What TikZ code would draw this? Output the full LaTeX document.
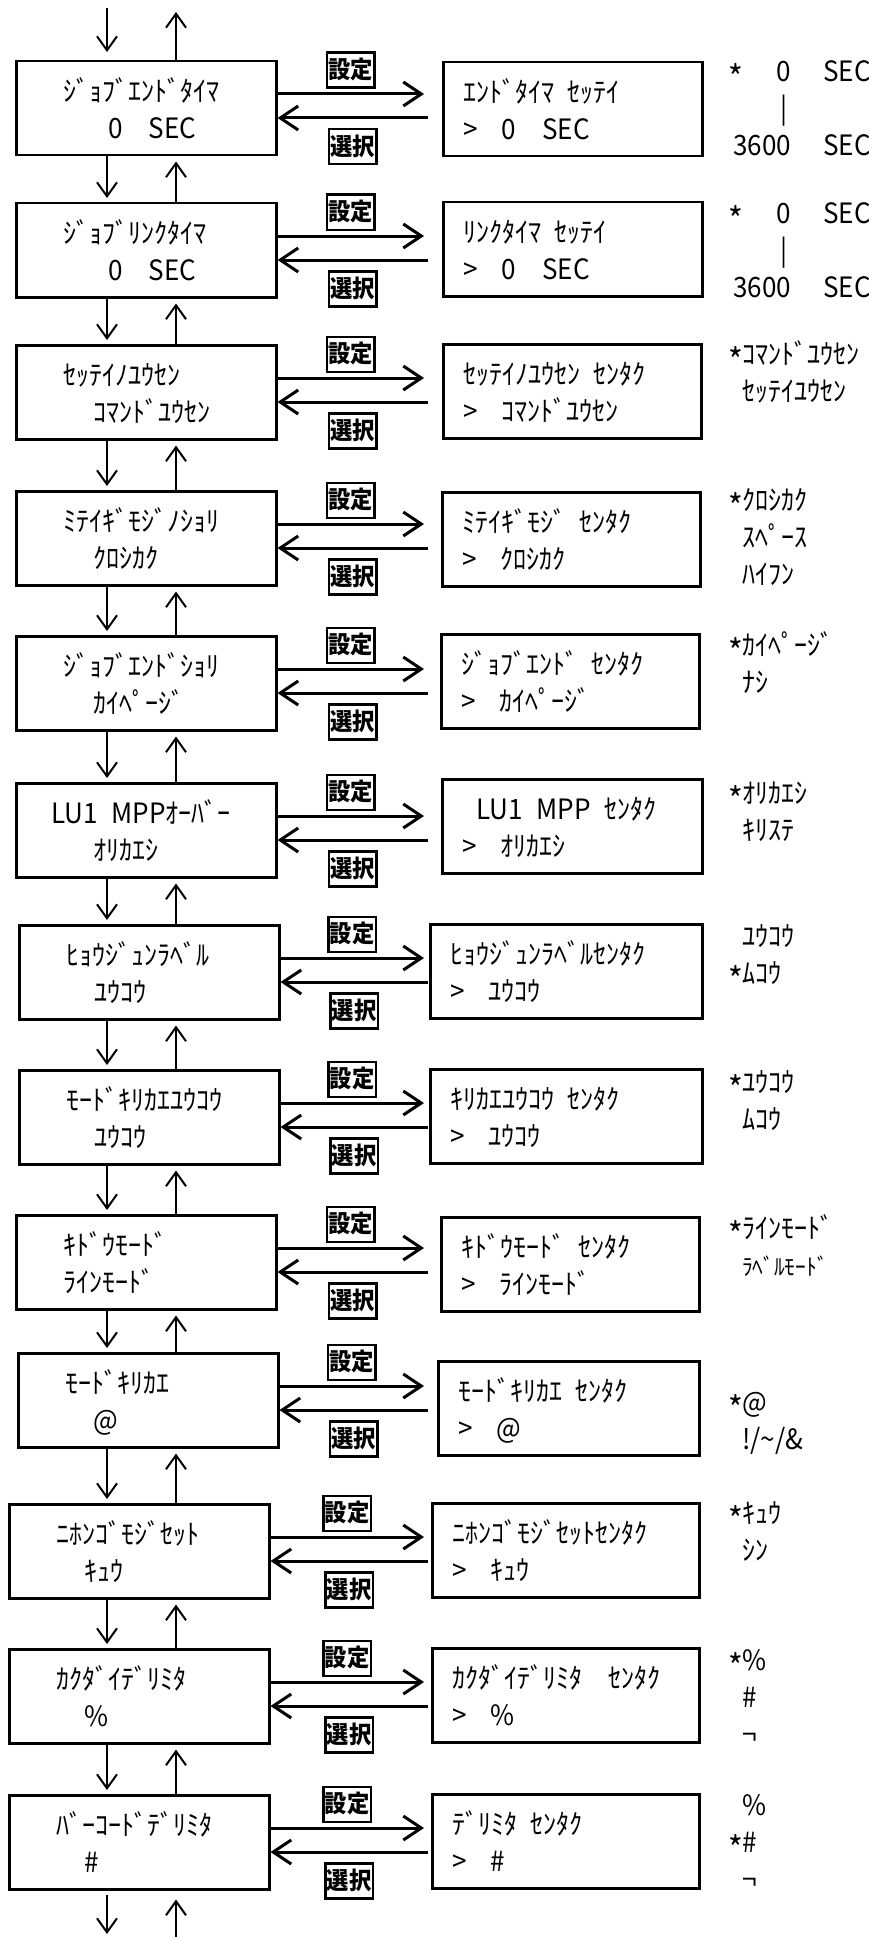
\documentclass[tikz,border=0pt]{standalone}
\usepackage{fontspec}
\setmainfont{Noto Sans CJK JP}[FakeStretch=0.93]
\usepackage{tikz}
\usetikzlibrary{arrows.meta,positioning}
\newcommand{\kstrut}{\rule[-6.5pt]{0pt}{37pt}}
\newcommand{\optmark}{\makebox[14pt][l]{\raisebox{-9pt}{\fontsize{34}{37}\selectfont *}}}
\newcommand{\optgap}{\hspace*{14pt}}

\begin{document}
\begin{tikzpicture}[x=1pt,y=-1pt,font=\fontsize{28}{37}\selectfont,
  screen/.style={draw,line width=2.5pt,anchor=north west,align=left,inner ysep=0pt,
    minimum height=94pt,execute at begin node=\kstrut,execute at end node=\kstrut},
  lbox/.style={screen,inner xsep=47pt,text width=166pt},
  rbox/.style={screen,inner xsep=20pt,text width=#1},
  rbox/.default=219pt,
  choice/.style={anchor=north west,align=left,inner sep=0pt,text width=150pt,
    execute at begin node=\kstrut},
  btn/.style={draw,line width=2.5pt,inner xsep=1.5pt,inner ysep=6pt,text height=20pt,
    text depth=3pt,font=\fontsize{24}{24}\selectfont\bfseries},
  fwd/.style={line width=3pt,-{Straight Barb[length=18pt,width=24pt]}},
  nav/.style={line width=2pt,-{Straight Barb[length=14pt,width=20pt]}}]
  \useasboundingbox (0,0) rectangle (868,1937);
  \coordinate (dn) at (107,8);
  \coordinate (up) at (176,12);
  \coordinate (foot) at (0,1937);
  \coordinate (tip) at (424,0);
  \coordinate (back) at (428,0);
  \coordinate (opt) at (728,0);

  % menu screens (left) and selection screens (right)
  \node[lbox] (L1) at (15,60) {ｼﾞｮﾌﾞｴﾝﾄﾞﾀｲﾏ\\\hspace*{45pt}0　SEC};
  \node[rbox] (R1) at (442,61) {ｴﾝﾄﾞﾀｲﾏ\hspace{13pt}ｾｯﾃｲ\\>\hspace{24pt}0　SEC};
  \node[lbox] (L2) at (15,202) {ｼﾞｮﾌﾞﾘﾝｸﾀｲﾏ\\\hspace*{45pt}0　SEC};
  \node[rbox] (R2) at (442,201) {ﾘﾝｸﾀｲﾏ\hspace{13pt}ｾｯﾃｲ\\>\hspace{24pt}0　SEC};
  \node[lbox] (L3) at (15,344) {ｾｯﾃｲﾉﾕｳｾﾝ\\\hspace*{30pt}ｺﾏﾝﾄﾞﾕｳｾﾝ};
  \node[rbox=218pt] (R3) at (442,343) {ｾｯﾃｲﾉﾕｳｾﾝ\hspace{13pt}ｾﾝﾀｸ\\>\hspace{24pt}ｺﾏﾝﾄﾞﾕｳｾﾝ};
  \node[lbox] (L4) at (15,490) {ﾐﾃｲｷﾞﾓｼﾞﾉｼｮﾘ\\\hspace*{30pt}ｸﾛｼｶｸ};
  \node[rbox=218pt] (R4) at (441,491) {ﾐﾃｲｷﾞﾓｼﾞ\hspace{13pt}ｾﾝﾀｸ\\>\hspace{24pt}ｸﾛｼｶｸ};
  \node[lbox] (L5) at (15,635) {ｼﾞｮﾌﾞｴﾝﾄﾞｼｮﾘ\\\hspace*{30pt}ｶｲﾍﾟｰｼﾞ};
  \node[rbox=218pt] (R5) at (440,633) {ｼﾞｮﾌﾞｴﾝﾄﾞ\hspace{13pt}ｾﾝﾀｸ\\>\hspace{24pt}ｶｲﾍﾟｰｼﾞ};
  \node[lbox] (L6) at (15,782) {\hspace*{-12pt}\mbox{LU1\hspace{14pt}MPPｵｰﾊﾞｰ}\\\hspace*{30pt}ｵﾘｶｴｼ};
  \node[rbox=220pt] (R6) at (441,778) {\hspace*{14pt}LU1\hspace{14pt}MPP\hspace{14pt}ｾﾝﾀｸ\\>\hspace{24pt}ｵﾘｶｴｼ};
  \node[lbox] (L7) at (18,924) {ﾋｮｳｼﾞｭﾝﾗﾍﾞﾙ\\\hspace*{28pt}ﾕｳｺｳ};
  \node[rbox=232pt] (R7) at (429,923) {ﾋｮｳｼﾞｭﾝﾗﾍﾞﾙｾﾝﾀｸ\\>\hspace{24pt}ﾕｳｺｳ};
  \node[lbox] (L8) at (18,1069) {ﾓｰﾄﾞｷﾘｶｴﾕｳｺｳ\\\hspace*{28pt}ﾕｳｺｳ};
  \node[rbox=232pt] (R8) at (429,1068) {ｷﾘｶｴﾕｳｺｳ\hspace{13pt}ｾﾝﾀｸ\\>\hspace{24pt}ﾕｳｺｳ};
  \node[lbox] (L9) at (15,1214) {ｷﾄﾞｳﾓｰﾄﾞ\\ﾗｲﾝﾓｰﾄﾞ};
  \node[rbox=218pt] (R9) at (440,1216) {ｷﾄﾞｳﾓｰﾄﾞ\hspace{13pt}ｾﾝﾀｸ\\>\hspace{24pt}ﾗｲﾝﾓｰﾄﾞ};
  \node[lbox] (L10) at (17,1352) {ﾓｰﾄﾞｷﾘｶｴ\\\hspace*{28pt}@};
  \node[rbox=221pt] (R10) at (437,1360) {ﾓｰﾄﾞｷﾘｶｴ\hspace{13pt}ｾﾝﾀｸ\\>\hspace{24pt}@};
  \node[lbox] (L11) at (8,1503) {ﾆﾎﾝｺﾞﾓｼﾞｾｯﾄ\\\hspace*{28pt}ｷｭｳ};
  \node[rbox=227pt] (R11) at (431,1502) {ﾆﾎﾝｺﾞﾓｼﾞｾｯﾄｾﾝﾀｸ\\>\hspace{24pt}ｷｭｳ};
  \node[lbox] (L12) at (8,1648) {ｶｸﾀﾞｲﾃﾞﾘﾐﾀ\\\hspace*{28pt}\%};
  \node[rbox=227pt] (R12) at (431,1647) {ｶｸﾀﾞｲﾃﾞﾘﾐﾀ\hspace{26pt}ｾﾝﾀｸ\\>\hspace{24pt}\%};
  \node[lbox] (L13) at (8,1794) {ﾊﾞｰｺｰﾄﾞﾃﾞﾘﾐﾀ\\\hspace*{28pt}\#};
  \node[rbox=227pt] (R13) at (431,1793) {ﾃﾞﾘﾐﾀ\hspace{13pt}ｾﾝﾀｸ\\>\hspace{24pt}\#};

  % choices, * = default
  \node[choice] (O1) at ([yshift=9pt]L1.north -| opt) {\optmark\hspace*{-1pt}\makebox[50pt][r]{0}\hspace{32pt}SEC\\\hspace*{13pt}\makebox[50pt][r]{\makebox[14pt]{|}}\\\hspace*{13pt}\makebox[50pt][r]{3600}\hspace{32pt}SEC};
  \node[choice] (O2) at ([yshift=9pt]L2.north -| opt) {\optmark\hspace*{-1pt}\makebox[50pt][r]{0}\hspace{32pt}SEC\\\hspace*{13pt}\makebox[50pt][r]{\makebox[14pt]{|}}\\\hspace*{13pt}\makebox[50pt][r]{3600}\hspace{32pt}SEC};
  \node[choice] (O3) at ([yshift=10pt]L3.north -| opt) {\optmark ｺﾏﾝﾄﾞﾕｳｾﾝ\\\optgap ｾｯﾃｲﾕｳｾﾝ};
  \node[choice] (O4) at ([yshift=10pt]L4.north -| opt) {\optmark ｸﾛｼｶｸ\\\optgap ｽﾍﾟｰｽ\\\optgap ﾊｲﾌﾝ};
  \node[choice] (O5) at ([yshift=10pt]L5.north -| opt) {\optmark ｶｲﾍﾟｰｼﾞ\\\optgap ﾅｼ};
  \node[choice] (O6) at ([yshift=9pt]L6.north -| opt) {\optmark ｵﾘｶｴｼ\\\optgap ｷﾘｽﾃ};
  \node[choice] (O7) at ([yshift=8pt]L7.north -| opt) {\optgap ﾕｳｺｳ\\\optmark ﾑｺｳ};
  \node[choice] (O8) at ([yshift=7pt]L8.north -| opt) {\optmark ﾕｳｺｳ\\\optgap ﾑｺｳ};
  \node[choice] (O9) at ([yshift=6pt]L9.north -| opt) {\optmark ﾗｲﾝﾓｰﾄﾞ\\\optgap{\fontsize{23}{37}\selectfont ﾗﾍﾞﾙﾓｰﾄﾞ}};
  \node[choice] (O10) at ([yshift=-30pt]L10.north -| opt) {\optmark @\\\optgap !/\textasciitilde/\&};
  \node[choice] (O11) at ([yshift=10pt]L11.north -| opt) {\optmark ｷｭｳ\\\optgap ｼﾝ};
  \node[choice] (O12) at ([yshift=8pt]L12.north -| opt) {\optmark\%\\\optgap\#\\\optgap ¬};
  \node[choice] (O13) at ([yshift=9pt]L13.north -| opt) {\optgap\%\\\optmark\#\\\optgap ¬};

  % set / select
  \foreach \i in {1,...,13}{
    \draw[fwd] ([yshift=-34pt]L\i.north east) -- ([yshift=-34pt]L\i.north east -| tip)
      node[btn,midway,above=5pt] (S\i) {設定};
    \draw[fwd] ([yshift=-58pt]L\i.north east -| back) -- ([yshift=-58pt]L\i.north east)
      node[btn,midway,below=10pt] (C\i) {選択};
  }

  % up / down through the menu
  \draw[nav,shorten >=8pt] (dn) -- (L1.north -| dn);
  \draw[nav] (L1.north -| up) -- (up);
  \foreach \i [count=\j from 2] in {1,...,12}{
    \draw[nav,shorten >=4pt] (L\i.south -| dn) -- (L\j.north -| dn);
    \draw[nav,shorten >=5pt] (L\j.north -| up) -- (L\i.south -| up);
  }
  \draw[nav,shorten >=3pt] ([yshift=-4pt]L13.south -| dn) -- (foot -| dn);
  \draw[nav,shorten >=9pt] (foot -| up) -- (L13.south -| up);
\end{tikzpicture}
\end{document}
